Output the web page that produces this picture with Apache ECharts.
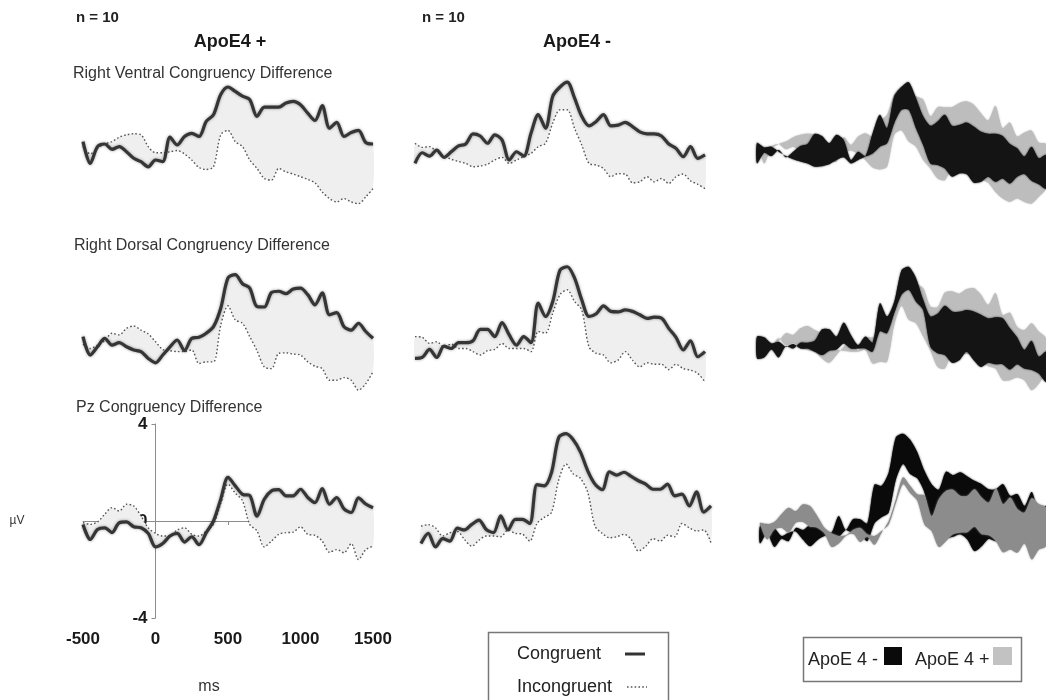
<!DOCTYPE html>
<html><head><meta charset="utf-8">
<script src="https://cdn.jsdelivr.net/npm/echarts@6/dist/echarts.min.js"></script>
<style>html,body{margin:0;padding:0;background:#fff}#c{width:1046px;height:700px}</style>
</head><body><div id="c"></div>
<script>
// time points (ms)
const ms = [-500,-450,-400,-350,-300,-250,-200,-150,-100,-50,0,50,100,150,200,250,300,350,400,450,500,550,600,650,700,750,800,850,900,950,1000,1050,1100,1150,1200,1250,1300,1350,1400,1450,1500];
const xTickStep = 500;
const yTickStep = 4;

// ApoE4 + (left column), µV
const ventralPosCong   = [0.43,-0.47,0.22,0.33,0.11,0.22,0.01,-0.26,-0.40,-0.61,-0.33,-0.40,0.61,0.29,0.64,0.77,0.64,1.26,1.54,2.37,2.68,2.50,2.30,2.16,1.47,1.85,1.85,1.85,2.02,2.09,1.95,1.60,1.30,1.91,0.98,1.22,0.64,0.80,0.89,0.39,0.33];
const ventralPosIncong = [0.22,-0.08,0.15,0.33,0.43,0.61,0.71,0.75,0.71,0.22,-0.03,-0.03,0.01,0.06,-0.08,-0.33,-0.64,-0.72,-0.61,0.71,0.89,0.43,0.22,-0.33,-0.68,-1.09,-1.16,-0.68,-0.82,-0.91,-1.02,-1.13,-1.27,-1.65,-1.92,-2.06,-1.92,-2.06,-2.13,-1.85,-1.51];
const dorsalPosCong    = [0.14,-0.62,-0.28,0.07,-0.21,-0.11,-0.28,-0.41,-0.48,-0.76,-0.94,-0.62,-0.28,0.00,-0.44,0.07,0.11,0.28,0.55,1.31,2.56,2.70,2.32,2.14,1.38,1.36,1.96,2.01,1.91,2.10,2.14,1.87,1.45,1.94,1.04,1.13,0.55,0.41,0.69,0.35,0.07];
const dorsalPosIncong  = [-0.17,-0.35,-0.21,-0.03,0.28,0.21,0.48,0.58,0.41,0.25,-0.07,-0.39,-0.44,-0.48,-0.48,-0.41,-0.97,-0.90,-0.90,0.62,1.41,0.83,0.69,0.14,-0.44,-1.11,-1.18,-0.55,-0.53,-0.58,-0.62,-0.90,-1.08,-1.18,-1.66,-1.66,-1.55,-1.66,-2.07,-1.80,-1.31];
const pzPosCong        = [-0.14,-0.76,-0.35,-0.28,-0.48,-0.07,-0.04,-0.24,-0.28,-0.51,-1.07,-0.93,-0.62,-0.51,-0.87,-0.65,-0.98,-0.48,0.00,0.90,1.80,1.45,1.10,1.05,0.20,0.90,1.24,1.29,1.04,1.04,1.31,0.97,0.76,1.34,0.69,0.97,0.50,0.35,0.95,0.70,0.55];
const pzPosIncong      = [-0.07,-0.14,-0.04,0.28,0.55,0.41,0.69,0.62,0.21,-0.28,-0.51,-0.62,-0.59,-0.37,-0.28,-0.55,-0.62,-0.41,-0.14,0.73,1.52,1.15,0.83,-0.14,-0.41,-1.07,-0.83,-0.55,-0.48,-0.46,-0.24,-0.55,-0.59,-0.83,-1.29,-1.18,-1.31,-0.93,-1.59,-1.18,-1.04];

// ApoE4 - (middle column), µV
const ventralNegCong   = [-0.47,-0.03,-0.17,0.08,-0.22,0.01,0.25,0.33,0.75,0.66,0.36,0.71,0.50,-0.33,0.01,-0.17,0.77,1.54,0.98,2.30,2.68,2.88,2.23,1.47,1.08,1.26,1.54,1.08,1.11,1.22,1.05,0.83,0.75,0.75,0.66,0.33,0.15,-0.19,0.22,-0.26,-0.12];
const ventralNegIncong = [0.36,0.19,0.22,0.01,-0.17,-0.30,-0.39,-0.47,-0.61,-0.58,-0.50,-0.33,-0.22,-0.47,-0.33,-0.19,-0.06,0.22,0.36,1.19,1.74,1.74,0.98,0.29,-0.47,-0.54,-0.68,-1.02,-0.89,-0.91,-1.27,-1.23,-1.02,-1.23,-1.09,-1.30,-1.02,-0.91,-1.19,-1.33,-1.51];
const dorsalNegCong    = [-0.76,-0.72,-0.39,-0.72,-0.25,-0.35,-0.11,-0.11,-0.03,0.44,0.44,0.14,0.72,0.21,-0.21,0.14,-0.11,1.52,0.97,1.59,2.88,3.02,2.56,1.66,0.97,1.08,1.41,1.18,1.16,1.24,1.18,1.04,0.89,0.94,0.90,0.48,0.11,-0.41,-0.03,-0.69,-0.48];
const dorsalNegIncong  = [0.14,0.11,-0.14,-0.07,-0.28,-0.17,-0.35,-0.35,-0.48,-0.62,-0.44,-0.39,-0.14,-0.35,-0.35,-0.35,-0.48,0.35,0.28,1.11,1.87,2.07,1.59,1.24,-0.28,-0.55,-0.62,-0.94,-0.83,-0.48,-0.83,-1.11,-0.94,-1.00,-1.00,-1.22,-1.00,-1.18,-1.24,-1.38,-1.73];
const pzNegCong        = [-0.93,-0.51,-1.07,-0.73,-0.83,-0.29,-0.37,-0.14,0.04,-0.35,-0.48,0.21,-0.37,0.07,0.07,-0.10,1.50,1.45,2.00,3.45,3.60,3.35,2.84,2.07,1.52,1.29,2.03,1.89,2.01,1.84,1.66,1.52,1.31,1.31,1.52,1.04,1.11,0.62,1.20,0.37,0.62];
const pzNegIncong      = [-0.21,-0.15,-0.28,-0.62,-0.48,-0.43,-0.76,-1.04,-0.79,-0.62,-0.62,-0.65,-0.37,-0.51,-0.54,-0.83,-0.10,0.15,0.35,1.70,2.35,1.94,1.76,1.18,-0.21,-0.51,-0.69,-0.65,-0.55,-0.76,-1.24,-1.04,-0.73,-0.83,-0.59,-0.65,-0.10,-0.28,-0.41,-0.37,-0.90];

// text
const rowTitles = ['Right Ventral Congruency Difference', 'Right Dorsal Congruency Difference', 'Pz Congruency Difference'];
const groupTitles = ['ApoE4 +', 'ApoE4 -'];
const nLabel = 'n = 10';
const legendLines = ['Congruent', 'Incongruent'];
const legendGroups = ['ApoE 4 -', 'ApoE 4 +'];

const FONT = '"Liberation Sans", Arial, Helvetica, sans-serif';
const rows = [
  {pos: [ventralPosCong, ventralPosIncong], neg: [ventralNegCong, ventralNegIncong]},
  {pos: [dorsalPosCong, dorsalPosIncong], neg: [dorsalNegCong, dorsalNegIncong]},
  {pos: [pzPosCong, pzPosIncong], neg: [pzNegCong, pzNegIncong]}
];

const colLeft = [83, 415, 757];
const rowTop = [55, 243, 424];
const GW = 290, GH = 194;
const AXIS_GREY = '#8c8c8c';

const grids = [], xAxes = [], yAxes = [], series = [];
for (let r = 0; r < 3; r++) {
  for (let c = 0; c < 3; c++) {
    const g = r * 3 + c;
    let left = colLeft[c];
    if (c === 1 && r === 2) left = 421;
    if (c === 2 && r === 2) left = 760;
    grids.push({left: left, top: rowTop[r], width: GW, height: GH, containLabel: false});
    if (g === 6) {
      xAxes.push({gridIndex: g, type: 'value', min: -500, max: 1500, interval: xTickStep,
        axisLine: {show: true, onZero: true, lineStyle: {color: AXIS_GREY, width: 1}},
        axisTick: {show: true, length: 4, lineStyle: {color: AXIS_GREY}},
        axisLabel: {show: false}, splitLine: {show: false}});
      yAxes.push({gridIndex: g, type: 'value', min: -4, max: 4, show: false});
    } else {
      xAxes.push({gridIndex: g, type: 'value', min: -500, max: 1500, show: false});
      yAxes.push({gridIndex: g, type: 'value', min: -4, max: 4, show: false});
    }
  }
}
// grid 9: bottom tick labels of the Pz ApoE4+ panel
grids.push({left: colLeft[0], top: rowTop[2], width: GW, height: GH, containLabel: false});
xAxes.push({gridIndex: 9, type: 'value', min: -500, max: 1500, interval: xTickStep, position: 'bottom',
  axisLine: {show: false, onZero: false}, axisTick: {show: false}, splitLine: {show: false},
  axisLabel: {show: true, fontFamily: FONT, fontSize: 17, fontWeight: 'bold', color: '#1a1a1a', margin: 13,
    showMinLabel: true, showMaxLabel: true, formatter: v => String(v)}});
yAxes.push({gridIndex: 9, type: 'value', min: -4, max: 4, show: false});
// grid 10: the µV axis, whose left edge sits at 0 ms of the Pz ApoE4+ panel
grids.push({left: colLeft[0] + GW * 500 / 2000, top: rowTop[2], width: 20, height: GH, containLabel: false});
xAxes.push({gridIndex: 10, type: 'value', min: 0, max: 1, show: false});
yAxes.push({gridIndex: 10, type: 'value', min: -4, max: 4, interval: yTickStep, position: 'left',
  axisLine: {show: true, onZero: false, lineStyle: {color: AXIS_GREY, width: 1}},
  axisTick: {show: true, length: 4, lineStyle: {color: AXIS_GREY}},
  axisLabel: {show: true, fontFamily: FONT, fontSize: 17, fontWeight: 'bold', color: '#1a1a1a', margin: 8},
  splitLine: {show: false}});

function band(g, upper, lower, color, blur) {
  return {
    type: 'custom', coordinateSystem: 'cartesian2d', xAxisIndex: g, yAxisIndex: g,
    silent: true, clip: false,
    data: ms.map((t, i) => [t, upper[i], lower[i]]),
    encode: {x: 0, y: [1, 2]},
    renderItem: function (params, api) {
      if (params.dataIndex !== 0) return null;
      const top = upper.map((v, i) => api.coord([ms[i], v]));
      const bot = lower.map((v, i) => api.coord([ms[i], v])).reverse();
      return {type: 'polygon', shape: {points: top.concat(bot), smooth: 0.25},
        style: {fill: color, shadowBlur: blur || 0, shadowColor: color}};
    }
  };
}
function line(g, arr, solid) {
  return {
    type: 'line', xAxisIndex: g, yAxisIndex: g, silent: true, showSymbol: false, symbol: 'none',
    smooth: 0.3, data: ms.map((t, i) => [t, arr[i]]),
    lineStyle: solid
      ? {color: '#353535', width: 3.2, shadowBlur: 3, shadowColor: 'rgba(0,0,0,0.4)'}
      : {color: '#555', width: 1.4, type: [1.6, 2.2]},
    z: solid ? 4 : 3
  };
}

for (let r = 0; r < 3; r++) {
  const P = rows[r].pos, N = rows[r].neg;
  series.push(band(r * 3, P[0], P[1], '#efefef'));
  series.push(line(r * 3, P[1], false));
  series.push(line(r * 3, P[0], true));
  series.push(band(r * 3 + 1, N[0], N[1], '#efefef'));
  series.push(line(r * 3 + 1, N[1], false));
  series.push(line(r * 3 + 1, N[0], true));
  if (r < 2) {
    series.push(band(r * 3 + 2, P[0], P[1], '#bdbdbd', 2));
    series.push(band(r * 3 + 2, N[0], N[1], '#141414', 2));
  } else {
    series.push(band(r * 3 + 2, N[0], N[1], '#0a0a0a', 2));
    series.push(band(r * 3 + 2, P[0], P[1], '#8c8c8c', 2));
  }
}

const txt = (x, y, s, size, weight, align, color) => ({
  type: 'text', x: x, y: y, silent: true, z: 10,
  style: {text: s, x: 0, y: 0, fill: color || '#222', font: (weight || 'normal') + ' ' + size + 'px ' + FONT,
    textAlign: align || 'left', textVerticalAlign: 'middle'}
});

const graphic = [
  txt(76, 18, nLabel, 15, 'bold'),
  txt(422, 18, nLabel, 15, 'bold'),
  txt(230, 42, groupTitles[0], 18, 'bold', 'center', '#1a1a1a'),
  txt(577, 42, groupTitles[1], 18, 'bold', 'center', '#1a1a1a'),
  txt(73, 74, rowTitles[0], 16, 'normal', 'left', '#333'),
  txt(74, 246, rowTitles[1], 16, 'normal', 'left', '#333'),
  txt(76, 408, rowTitles[2], 16, 'normal', 'left', '#333'),
  txt(17, 521, 'µV', 12, 'normal', 'center', '#333'),
  txt(209, 687, 'ms', 16, 'normal', 'center', '#333'),
  {type: 'rect', silent: true, z: 10, shape: {x: 488.5, y: 632.5, width: 180, height: 80},
    style: {fill: '#fff', stroke: '#777', lineWidth: 1.5}},
  txt(517, 654, legendLines[0], 18, 'normal', 'left', '#222'),
  txt(517, 687, legendLines[1], 18, 'normal', 'left', '#222'),
  {type: 'line', silent: true, z: 10, shape: {x1: 625, y1: 654, x2: 645, y2: 654},
    style: {stroke: '#333', lineWidth: 3}},
  {type: 'line', silent: true, z: 10, shape: {x1: 627, y1: 687, x2: 647, y2: 687},
    style: {stroke: '#555', lineWidth: 1.4, lineDash: [1.6, 2.2]}},
  {type: 'rect', silent: true, z: 10, shape: {x: 803.5, y: 637.5, width: 218, height: 44},
    style: {fill: '#fff', stroke: '#777', lineWidth: 1.5}},
  txt(808, 660, legendGroups[0], 18, 'normal', 'left', '#222'),
  {type: 'rect', silent: true, z: 10, shape: {x: 884, y: 647, width: 18, height: 18}, style: {fill: '#0a0a0a'}},
  txt(915, 660, legendGroups[1], 18, 'normal', 'left', '#222'),
  {type: 'rect', silent: true, z: 10, shape: {x: 993, y: 647, width: 19, height: 18}, style: {fill: '#c2c2c2'}}
];

const chart = echarts.init(document.getElementById('c'), null, {renderer: 'canvas'});
chart.setOption({
  animation: false,
  backgroundColor: '#fff',
  grid: grids, xAxis: xAxes, yAxis: yAxes, series: series, graphic: graphic
});
</script></body></html>
